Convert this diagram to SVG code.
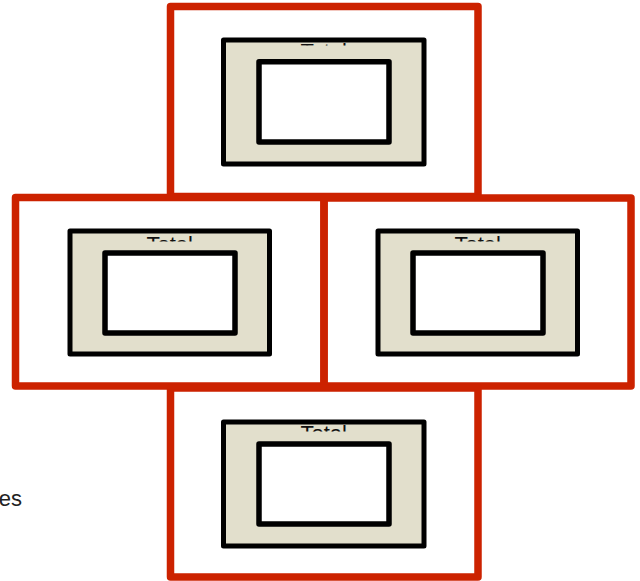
<svg xmlns="http://www.w3.org/2000/svg" width="640" height="581" viewBox="0 0 640 581">
<style>
.frame{fill:none;stroke:#cc2200;stroke-width:7.5;stroke-linejoin:round}
.outer{fill:#e2dfcc;stroke:#000;stroke-width:5;stroke-linejoin:round}
.inner{fill:#fff;stroke:#000;stroke-width:5.5;stroke-linejoin:round}
.lbl{font-family:"Liberation Sans",Arial,sans-serif;font-size:22px;fill:#111;text-anchor:middle}
.side{font-family:"Liberation Sans",Arial,sans-serif;font-size:22px;fill:#222;text-anchor:end}
</style>
<defs>
<clipPath id="cTop"><rect x="226" y="42.5" width="196" height="3"/></clipPath>
<clipPath id="cLeft"><rect x="73" y="233.5" width="194" height="8"/></clipPath>
<clipPath id="cRight"><rect x="381" y="233.5" width="194" height="8"/></clipPath>
<clipPath id="cBottom"><rect x="226" y="424.5" width="196" height="7"/></clipPath>
</defs>
<rect width="640" height="581" fill="#fff"/>
<g id="node-top">
<rect class="frame" x="170.5" y="6.5" width="307.5" height="190"/>
<rect class="outer" x="223.5" y="40" width="200.5" height="124"/>
<text class="lbl" x="323.7" y="58.5" clip-path="url(#cTop)">Total</text>
<rect class="inner" x="259" y="61.7" width="130" height="80.3"/>
</g>
<g id="node-left">
<rect class="frame" x="15.5" y="197.5" width="308.5" height="188.5"/>
<rect class="outer" x="70" y="231" width="199.5" height="123"/>
<text class="lbl" x="169.7" y="251.5" clip-path="url(#cLeft)">Total</text>
<rect class="inner" x="105" y="253" width="130" height="80"/>
</g>
<g id="node-right">
<rect class="frame" x="324" y="198" width="307" height="188"/>
<rect class="outer" x="378" y="231" width="199.5" height="123"/>
<text class="lbl" x="477.7" y="251.5" clip-path="url(#cRight)">Total</text>
<rect class="inner" x="413" y="253" width="130" height="80"/>
</g>
<g id="node-bottom">
<rect class="frame" x="170.5" y="388" width="307.5" height="189"/>
<rect class="outer" x="223.5" y="422" width="200.5" height="124"/>
<text class="lbl" x="323.7" y="440.5" clip-path="url(#cBottom)">Total</text>
<rect class="inner" x="259" y="444" width="130" height="80"/>
</g>
<text class="side" x="22" y="506">es</text>
</svg>
